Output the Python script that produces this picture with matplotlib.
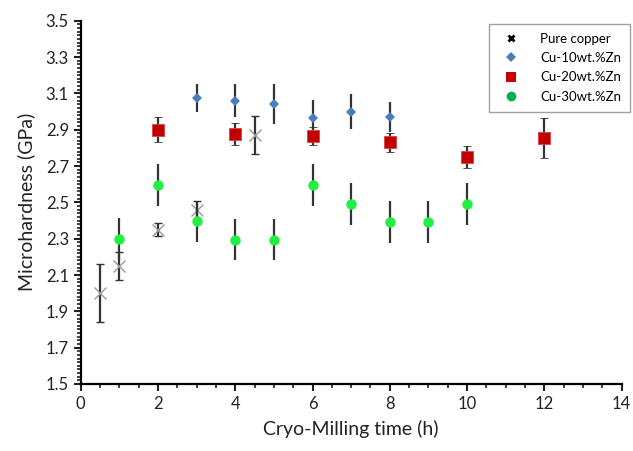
import matplotlib
matplotlib.use("Agg")
import matplotlib.pyplot as plt
from matplotlib.lines import Line2D
from matplotlib.ticker import MultipleLocator

plt.rcParams['font.family'] = ['Lato', 'DejaVu Sans']

# Pure copper
cu_x = [0.5, 1, 2, 3, 4.5]
cu_y = [2.00, 2.15, 2.35, 2.46, 2.87]
cu_e = [0.16, 0.075, 0.035, 0.05, 0.105]

# Cu-10wt.%Zn
z10_x = [3, 4, 5, 6, 7, 8]
z10_y = [3.075, 3.06, 3.04, 2.965, 3.0, 2.97]
z10_e = [0.075, 0.09, 0.11, 0.10, 0.095, 0.08]

# Cu-20wt.%Zn
z20_x = [2, 4, 6, 8, 10, 12]
z20_y = [2.90, 2.875, 2.865, 2.83, 2.75, 2.855]
z20_e = [0.07, 0.06, 0.05, 0.05, 0.06, 0.11]

# Cu-30wt.%Zn
z30_x = [1, 2, 3, 4, 5, 6, 7, 8, 9, 10]
z30_y = [2.30, 2.595, 2.395, 2.295, 2.295, 2.595, 2.49, 2.39, 2.39, 2.49]
z30_e = [0.115] * 10

fig = plt.figure(figsize=(6.33, 4.51), dpi=100)
ax = fig.add_axes([0.1275, 0.1486, 0.8545, 0.8054])

ekw = dict(ecolor='#333333', elinewidth=1.6, capsize=3, capthick=1.6, linestyle='none')
ax.errorbar(cu_x, cu_y, yerr=cu_e, fmt='x', color='#9a9a9a', markersize=8,
            markeredgewidth=1.0, **ekw, zorder=2)
ax.errorbar(z10_x, z10_y, yerr=z10_e, fmt='D', color='#4a7ebb', markersize=5.5,
            markeredgewidth=0, **ekw, zorder=3)
ax.errorbar(z20_x, z20_y, yerr=z20_e, fmt='s', color='#c00000', markersize=8,
            markeredgecolor='#e04040', markeredgewidth=0.6, **ekw, zorder=3)
ax.errorbar(z30_x, z30_y, yerr=z30_e, fmt='o', color='#22ee44', markersize=7.5,
            markeredgewidth=0, **ekw, zorder=3)

ax.set_xlim(0, 14)
ax.set_ylim(1.5, 3.5)
ax.xaxis.set_major_locator(MultipleLocator(2))
ax.xaxis.set_minor_locator(MultipleLocator(0.5))
ax.yaxis.set_minor_locator(MultipleLocator(0.02))
ax.set_yticks([1.5 + 0.2 * i for i in range(11)])
ax.set_yticklabels(['%.1f' % (1.5 + 0.2 * i) for i in range(11)])

for s in ['top', 'right']:
    ax.spines[s].set_visible(False)
for s in ['left', 'bottom']:
    ax.spines[s].set_linewidth(1.6)
ax.tick_params(which='major', direction='out', length=5, width=1.5, labelsize=12,
               colors='#222222')
ax.tick_params(which='minor', direction='out', length=3, width=1.2, colors='#222222')

ax.set_xlabel('Cryo-Milling time (h)', fontsize=14, color='#222222', labelpad=6)
ax.set_ylabel('Microhardness (GPa)', fontsize=14, color='#222222', labelpad=8)

handles = [
    Line2D([], [], marker='x', color='black', markersize=5, markeredgewidth=2, linestyle='none'),
    Line2D([], [], marker='D', color='#4a7ebb', markersize=5, markeredgewidth=0, linestyle='none'),
    Line2D([], [], marker='s', color='#cc0000', markersize=7, markeredgewidth=0, linestyle='none'),
    Line2D([], [], marker='o', color='#00b050', markersize=7, markeredgewidth=0, linestyle='none'),
]
labels = ['Pure copper', 'Cu-10wt.%Zn', 'Cu-20wt.%Zn', 'Cu-30wt.%Zn']
leg = fig.legend(handles, labels, loc='upper left',
                 bbox_to_anchor=(482 / 633, 1 - 17 / 451), fontsize=9.5,
                 frameon=True, fancybox=False, borderpad=0.7, labelspacing=0.55,
                 handletextpad=1.2, edgecolor='#888888')
leg.get_frame().set_linewidth(1.0)

fig.savefig('out.png', dpi=100)
